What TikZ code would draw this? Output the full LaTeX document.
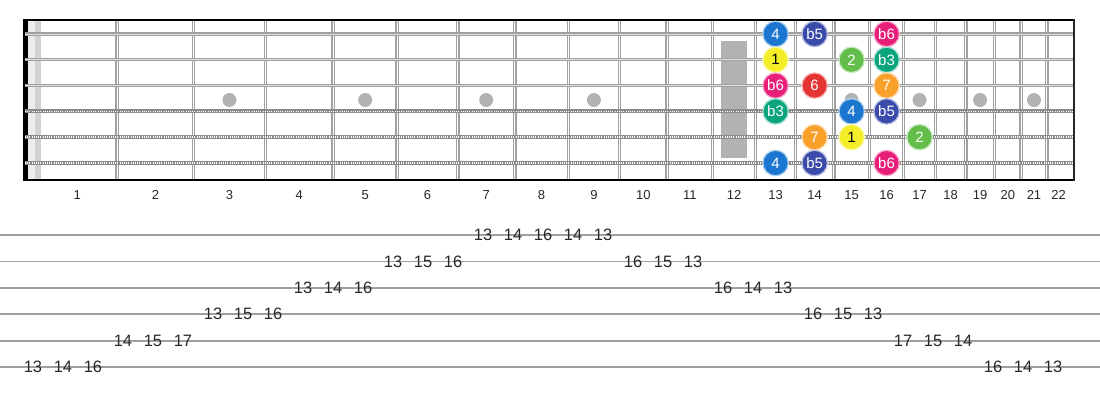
\documentclass[tikz,border=0pt]{standalone}
\usepackage{fontspec}
\setmainfont{Liberation Sans}
\usepackage{xcolor}
\usetikzlibrary{calc}

\definecolor{fretgrey}{RGB}{160,160,160}
\definecolor{inkgrey}{RGB}{40,40,40}
\definecolor{degfour}{RGB}{27,118,208}
\definecolor{degbfive}{RGB}{58,75,170}
\definecolor{degbsix}{RGB}{231,31,121}
\definecolor{degone}{RGB}{243,238,40}
\definecolor{degtwo}{RGB}{98,190,72}
\definecolor{degbthree}{RGB}{10,165,125}
\definecolor{degsix}{RGB}{229,52,52}
\definecolor{degseven}{RGB}{248,160,42}

% fret n sits at a 12-tet distance from the nut
\pgfmathdeclarefunction{fretpos}{1}{\pgfmathparse{37+1437*(1-2^(-#1/12))}}
\pgfmathdeclarefunction{fretmid}{1}{\pgfmathparse{(fretpos(#1-1)+fretpos(#1))/2}}
\pgfmathdeclarefunction{stringy}{1}{\pgfmathparse{34+25.8*(#1-1)}}
\pgfmathdeclarefunction{taby}{1}{\pgfmathparse{235+26.4*(#1-1)}}

\begin{document}
\begin{tikzpicture}[x=1pt, y=-1pt,
    fretwire/.style={draw=fretgrey, double=white, double distance=1.3pt, line width=1.2pt},
    plainstring/.style={draw=fretgrey, double=gray!25, double distance=0.9pt, line width=1.1pt},
    woundstring/.style={draw=gray!90, line width=4pt},
    woundwrap/.style={draw=white, line width=1.6pt, dash pattern=on 0.7pt off 1.5pt},
    inlay/.style={fill=gray!60, draw=none},
    degree/.style={circle, minimum size=25.5pt, inner sep=0pt, fill=#1, draw=#1!35!white,
      line width=1.3pt, font=\fontsize{15}{15}\selectfont},
    fretnum/.style={font=\fontsize{13}{13}\selectfont, text=inkgrey},
    tabnum/.style={font=\fontsize{16.5}{16.5}\selectfont, text=inkgrey, inner sep=1pt},
    tabline/.style={draw=gray!75, line width=1.8pt}]
  \useasboundingbox (0,0) rectangle (1100,400);

  % nut
  \fill[gray!15] (28,19) rectangle (35,180);
  \fill[gray!35] (35,19) rectangle (40.5,180);
  \fill[black] (23,19) rectangle (28,180);

  % frets
  \foreach \n in {1,...,21}
    \draw[fretwire] ({fretpos(\n)},19) -- ({fretpos(\n)},181);

  % inlays
  \foreach \n in {3,5,7,9,15,17,19,21}
    \fill[inlay] ({fretmid(\n)},100) circle (7);
  \fill[inlay] ({fretmid(12)-13},41) rectangle ({fretmid(12)+13},158);

  % strings
  \foreach \s in {1,2,3}
    \draw[plainstring] (25,{stringy(\s)}) -- (1074,{stringy(\s)});
  \foreach \s in {4,5,6} {
    \draw[woundstring] (25,{stringy(\s)}) -- (1074,{stringy(\s)});
    \draw[woundwrap] (25,{stringy(\s)}) -- (1074,{stringy(\s)});
  }

  % board edges
  \draw[black, line width=2pt] (23,19.5) -- (1074,19.5);
  \draw[black, line width=2pt] (23,180) -- (1074,180);
  \draw[black!85, line width=1.6pt] (1074,19) -- (1074,181);

  % fret numbers
  \foreach \n in {1,...,22}
    \node[fretnum] (fl-\n) at ({fretmid(\n)},195) {\n};

  % scale degrees: string/fret/label/colour/text colour
  \foreach \s/\f/\d/\c/\t in {1/13/4/degfour/white, 1/14/b5/degbfive/white, 1/16/b6/degbsix/white,
      2/13/1/degone/black, 2/15/2/degtwo/white, 2/16/b3/degbthree/white,
      3/13/b6/degbsix/white, 3/14/6/degsix/white, 3/16/7/degseven/white,
      4/13/b3/degbthree/white, 4/15/4/degfour/white, 4/16/b5/degbfive/white,
      5/14/7/degseven/white, 5/15/1/degone/black, 5/17/2/degtwo/white,
      6/13/4/degfour/white, 6/14/b5/degbfive/white, 6/16/b6/degbsix/white}
    \node[degree=\c, text=\t] (n-\s-\f) at ({fretmid(\f)},{stringy(\s)}) {\d};

  % tab staff
  \foreach \s in {1,...,6}
    \draw[tabline] (0,{taby(\s)}) -- (1100,{taby(\s)});

  % tab: string/fret, one step per note
  \foreach \s/\f [count=\i from 0] in {6/13,6/14,6/16, 5/14,5/15,5/17, 4/13,4/15,4/16,
      3/13,3/14,3/16, 2/13,2/15,2/16, 1/13,1/14,1/16,1/14,1/13,
      2/16,2/15,2/13, 3/16,3/14,3/13, 4/16,4/15,4/13, 5/17,5/15,5/14, 6/16,6/14,6/13}
    \node[tabnum] (t-\i) at ({33+30*\i},{taby(\s)}) {\f};
\end{tikzpicture}
\end{document}
